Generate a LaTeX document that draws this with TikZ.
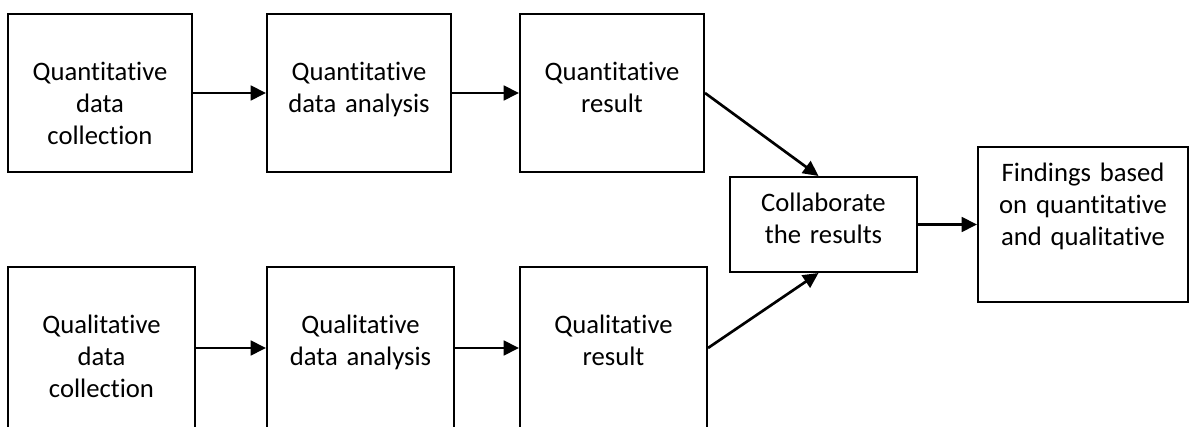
\documentclass[tikz,border=0pt]{standalone}
\usepackage{fontspec}
\setmainfont{Carlito}[RawFeature={-liga;-clig;-calt;-dlig}]
\usetikzlibrary{arrows.meta,fit}

\begin{document}
\begin{tikzpicture}[x=0.75pt,y=-0.75pt,
  box/.style={draw=black, line width=1.5pt, inner sep=0pt, fill=white},
  lbl/.style={anchor=base, align=center, inner sep=0pt,
    font=\fontsize{20}{24}\selectfont},
  flow/.style={line width=2pt, -{Triangle[length=11.5pt,width=11pt]}}]
  \useasboundingbox (0,0) rectangle (1192,427);

  % quantitative strand
  \node[box, fit={(8,14)(192,172)}] (q1) {};
  \node[box, fit={(267,14)(451,172)}] (q2) {};
  \node[box, fit={(520,14)(704,172)}] (q3) {};

  % qualitative strand (runs past the lower edge)
  \begin{scope}
    \clip (0,0) rectangle (1192,427);
    \node[box, fit={(8,267)(195,429)}] (l1) {};
    \node[box, fit={(267,267)(454,429)}] (l2) {};
    \node[box, fit={(520,267)(707,429)}] (l3) {};
  \end{scope}

  % merging and findings
  \node[box, fit={(730,177)(917,272)}] (col) {};
  \node[box, fit={(978,147)(1188,302)}] (fin) {};

  % box texts
  \node[lbl, text width=180*0.75pt] (tq1) at ([yshift=-68*0.75pt]q1.north) {Quantitative\\data\\collection};
  \node[lbl, text width=180*0.75pt] (tq2) at ([yshift=-68*0.75pt]q2.north) {Quantitative\\data analysis};
  \node[lbl, text width=180*0.75pt] (tq3) at ([yshift=-68*0.75pt]q3.north) {Quantitative\\result};
  \node[lbl, text width=180*0.75pt] (tl1) at ([yshift=-68*0.75pt]l1.north) {Qualitative\\data\\collection};
  \node[lbl, text width=180*0.75pt] (tl2) at ([yshift=-68*0.75pt]l2.north) {Qualitative\\data analysis};
  \node[lbl, text width=180*0.75pt] (tl3) at ([yshift=-68*0.75pt]l3.north) {Qualitative\\result};
  \node[lbl, text width=180*0.75pt] (tcol) at ([yshift=-36*0.75pt]col.north) {Collaborate\\the results};
  \node[lbl, text width=200*0.75pt] (tfin) at ([yshift=-36*0.75pt]fin.north) {Findings based\\on quantitative\\and qualitative};

  % connectors
  \draw[flow] (q1.east) -- (q2.west);
  \draw[flow] (q2.east) -- (q3.west);
  \draw[flow] (l1.east) -- (l2.west);
  \draw[flow] (l2.east) -- (l3.west);
  \draw[flow] (q3.east) -- ([xshift=-5*0.75pt]col.north);
  \draw[flow] (l3.east) -- ([xshift=-5*0.75pt]col.south);
  \draw[flow] (col.east) -- (fin.west);
\end{tikzpicture}
\end{document}
